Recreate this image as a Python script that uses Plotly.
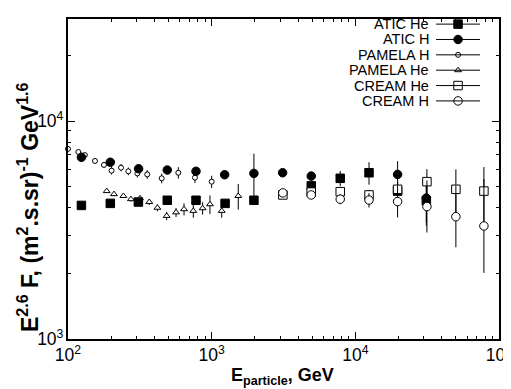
import plotly.graph_objects as go

# ---------------- data ----------------
pamela_h_E = [100, 118, 131, 154, 178, 201, 234, 263, 304, 356, 449, 586, 765, 1000]
pamela_h_F = [7450, 7210, 6980, 6560, 6290, 5920, 6110, 5880, 5750, 5690, 5460, 5790, 5500, 5270]
pamela_h_err = [150, 150, 150, 160, 200, 240, 230, 240, 240, 260, 280, 350, 300, 340]

pamela_he_E = [186, 209, 243, 274, 317, 368, 419, 486, 565, 642, 745, 865, 973, 1175, 1532]
pamela_he_F = [4770, 4620, 4530, 4380, 4420, 4250, 4000, 3670, 3810, 3940, 3870, 3980, 4150, 3870, 4530]
pamela_he_err = [100, 100, 100, 110, 110, 130, 150, 160, 180, 250, 270, 260, 410, 270, 610]

atic_h_E = [124, 197, 310, 491, 778, 1231, 1968, 3118, 4936, 19690, 31200]
atic_h_F = [6820, 6470, 6040, 5960, 5880, 5670, 5750, 5790, 5590, 5690, 4430]
atic_h_err_up = [80, 80, 80, 80, 80, 80, 1330, 200, 250, 850, 1000]
atic_h_err_dn = [80, 80, 80, 80, 80, 80, 1400, 200, 250, 850, 1000]

atic_he_E = [124, 197, 309, 491, 778, 1240, 1968, 4936, 7850, 12450, 19690, 31200]
atic_he_F = [4100, 4190, 4250, 4330, 4330, 4190, 4330, 5040, 5460, 5790, 4770, 4310]
atic_he_err = [60, 60, 60, 60, 60, 60, 80, 200, 440, 680, 500, 1000]

cream_E = [3130, 4930, 7850, 12450, 19680, 31500, 50100, 78500]
cream_he_F = [4580, 4720, 4740, 4580, 4860, 5270, 4860, 4770]
cream_he_err = [150, 150, 200, 250, 300, 740, 1140, 1380]
cream_h_F = [4680, 4580, 4380, 4340, 4270, 4050, 3640, 3300]
cream_h_err_up = [150, 150, 230, 330, 780, 1290, 1390, 2120]
cream_h_err_dn = [150, 150, 230, 330, 660, 970, 1005, 1290]

legend_names = ["ATIC He", "ATIC H", "PAMELA H", "PAMELA He", "CREAM He", "CREAM H"]

# ---------------- styles ----------------
FONT = "Arial, 'Liberation Sans', sans-serif"
X_RANGE = [2, 5]
Y_RANGE = [3, 4.468]
styles = {
    "ATIC He": dict(symbol="square", size=8.5, color="black", line=dict(color="black", width=1)),
    "ATIC H": dict(symbol="circle", size=8.5, color="black", line=dict(color="black", width=1)),
    "PAMELA H": dict(symbol="circle", size=5, color="white", line=dict(color="black", width=1)),
    "PAMELA He": dict(symbol="triangle-up", size=6, color="white", line=dict(color="black", width=1)),
    "CREAM He": dict(symbol="square", size=8.5, color="white", line=dict(color="black", width=1)),
    "CREAM H": dict(symbol="circle", size=8.5, color="white", line=dict(color="black", width=1)),
}


def err(up, dn=None):
    d = dict(type="data", array=up, visible=True, color="black", thickness=1, width=0)
    if dn is not None:
        d["symmetric"] = False
        d["arrayminus"] = dn
    return d


fig = go.Figure()
fig.add_trace(go.Scatter(x=pamela_h_E, y=pamela_h_F, mode="markers", name="PAMELA H", cliponaxis=False,
                         marker=styles["PAMELA H"], error_y=err(pamela_h_err)))
fig.add_trace(go.Scatter(x=pamela_he_E, y=pamela_he_F, mode="markers", name="PAMELA He",
                         marker=styles["PAMELA He"], error_y=err(pamela_he_err)))
fig.add_trace(go.Scatter(x=atic_h_E, y=atic_h_F, mode="markers", name="ATIC H",
                         marker=styles["ATIC H"], error_y=err(atic_h_err_up, atic_h_err_dn)))
fig.add_trace(go.Scatter(x=atic_he_E, y=atic_he_F, mode="markers", name="ATIC He",
                         marker=styles["ATIC He"], error_y=err(atic_he_err)))
fig.add_trace(go.Scatter(x=cream_E, y=cream_he_F, mode="markers", name="CREAM He",
                         marker=styles["CREAM He"], error_y=err(cream_he_err)))
fig.add_trace(go.Scatter(x=cream_E, y=cream_h_F, mode="markers", name="CREAM H",
                         marker=styles["CREAM H"], error_y=err(cream_h_err_up, cream_h_err_dn)))


# ---------------- custom legend (text left, symbol right), in axis-domain fractions ----------------
def fx(f):
    return 10 ** (X_RANGE[0] + (X_RANGE[1] - X_RANGE[0]) * f)


def fy(f):
    return 10 ** (Y_RANGE[0] + (Y_RANGE[1] - Y_RANGE[0]) * f)


row_y0, row_dy = 0.984, 0.048
line_x0, line_x1, mark_x, text_x = 0.854, 0.956, 0.905, 0.843
for i, name in enumerate(legend_names):
    yy = row_y0 - i * row_dy
    fig.add_shape(type="line", xref="x domain", yref="y domain", x0=line_x0, x1=line_x1,
                  y0=yy, y1=yy, line=dict(color="black", width=1))
    fig.add_trace(go.Scatter(x=[fx(mark_x)], y=[fy(yy)], mode="markers", marker=styles[name],
                             showlegend=False, hoverinfo="skip"))
    fig.add_annotation(x=text_x, y=yy, xref="x domain", yref="y domain", text=name, showarrow=False,
                       xanchor="right", yanchor="middle", font=dict(family=FONT, size=14.5, color="black"))

# axis titles as annotations for exact placement
fig.add_annotation(xref="paper", yref="paper", x=0, y=0.4125, xshift=-40, textangle=-90,
                   xanchor="center", yanchor="middle", showarrow=False,
                   text="<b>E<sup>2.6</sup> F, (m<sup>2</sup>.s.sr)<sup>-1</sup> GeV<sup>1.6</sup></b>",
                   font=dict(family=FONT, size=23, color="black"))
fig.add_annotation(xref="paper", yref="paper", x=0.4977, y=0, yshift=-37,
                   xanchor="center", yanchor="middle", showarrow=False,
                   text="<b>E<sub>particle</sub>, GeV</b>",
                   font=dict(family=FONT, size=18, color="black"))

axis_common = dict(
    type="log", showgrid=False, zeroline=False, showline=True, linecolor="black", linewidth=1.5,
    mirror="ticks", ticks="inside", ticklen=7, tickwidth=1, tickcolor="black",
    dtick=1, exponentformat="power", tickfont=dict(family=FONT, size=14, color="black"),
    minor=dict(ticks="inside", ticklen=3, tickcolor="black", showgrid=False),
    automargin=False, ticklabeloverflow="allow",
)

# page body has an 8px default margin: size the figure so the plot lands where the reference has it
fig.update_layout(
    width=503, height=381,
    margin=dict(l=60, r=12, t=11, b=50),
    paper_bgcolor="white", plot_bgcolor="white",
    showlegend=False,
    font=dict(family=FONT, color="black"),
    xaxis=dict(axis_common, range=X_RANGE),
    yaxis=dict(axis_common, range=Y_RANGE),
)

fig.write_html("out.html")
